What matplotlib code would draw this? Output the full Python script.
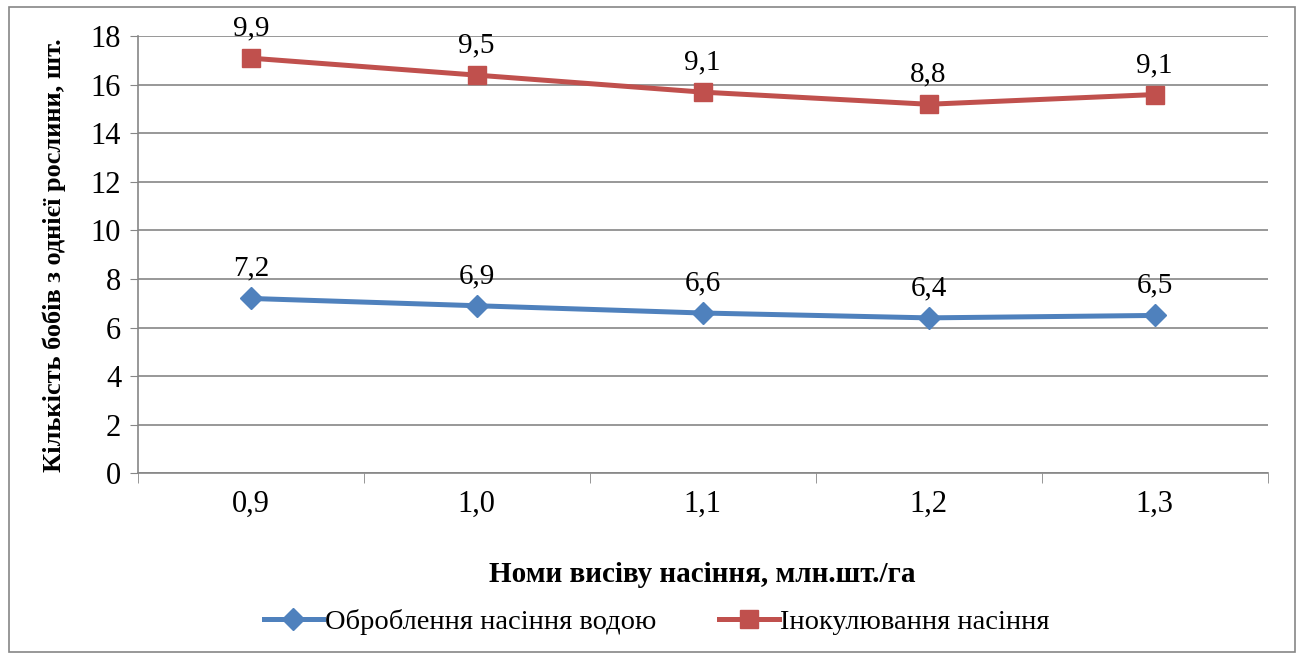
import matplotlib.pyplot as plt
import numpy as np
from matplotlib.patches import Rectangle

# data
categories = ["0,9", "1,0", "1,1", "1,2", "1,3"]
water = [7.2, 6.9, 6.6, 6.4, 6.5]
inoculation = [9.9, 9.5, 9.1, 8.8, 9.1]
series_names = ["Оброблення насіння водою", "Інокулювання насіння"]

plt.rcParams["font.family"] = ["Liberation Serif", "DejaVu Serif"]

blue = "#4F81BD"
red = "#C0504D"
grid_color = "#868686"

fig = plt.figure(figsize=(13, 6.6), dpi=100)
ax = fig.add_axes([0.106, 0.283, 0.869, 0.662])

x = np.arange(len(categories))
# stacked line chart: second series sits on top of the first
stacked = np.array(water) + np.array(inoculation)

ax.plot(x, water, color=blue, linewidth=3.6, marker="D", markersize=11,
        label=series_names[0], zorder=3)
ax.plot(x, stacked, color=red, linewidth=3.6, marker="s", markersize=13,
        label=series_names[1], zorder=3)

for xi, yi, v in zip(x, water, water):
    ax.annotate(f"{v:.1f}".replace(".", ","), (xi, yi), xytext=(0, 12),
                textcoords="offset points", ha="center", va="bottom", fontsize=21)
for xi, yi, v in zip(x, stacked, inoculation):
    ax.annotate(f"{v:.1f}".replace(".", ","), (xi, yi), xytext=(0, 12),
                textcoords="offset points", ha="center", va="bottom", fontsize=21)

ax.set_xlim(-0.5, len(categories) - 0.5)
ax.set_ylim(0, 18)
ax.set_yticks(np.arange(0, 19, 2))
ax.tick_params(axis="y", labelsize=22, length=6, color=grid_color, pad=6)
ax.set_xticks(x)
ax.set_xticklabels(categories, fontsize=22)
ax.tick_params(axis="x", length=0, pad=12)
ax.set_xticks(np.arange(-0.5, len(categories)), minor=True)
ax.tick_params(axis="x", which="minor", length=7, color=grid_color)
ax.yaxis.grid(True, color=grid_color, linewidth=1.2)
ax.set_axisbelow(True)
for s in ["top", "right"]:
    ax.spines[s].set_visible(False)
for s in ["left", "bottom"]:
    ax.spines[s].set_color(grid_color)
    ax.spines[s].set_linewidth(1.2)

ax.set_ylabel("Кількість бобів з однієї рослини, шт.", fontsize=19,
              fontweight="bold", labelpad=18)
ax.set_xlabel("Номи висіву насіння, млн.шт./га", fontsize=21,
              fontweight="bold", labelpad=30)

fig.legend(loc="center", bbox_to_anchor=(0.505, 0.057), ncol=2, frameon=False,
           fontsize=20.5, handlelength=2.1, handletextpad=0.05, columnspacing=2.2)

fig.patches.append(Rectangle((0.007, 0.012), 0.989, 0.977, transform=fig.transFigure,
                             fill=False, edgecolor=grid_color, linewidth=1.2))

plt.savefig("out.png", dpi=100)
